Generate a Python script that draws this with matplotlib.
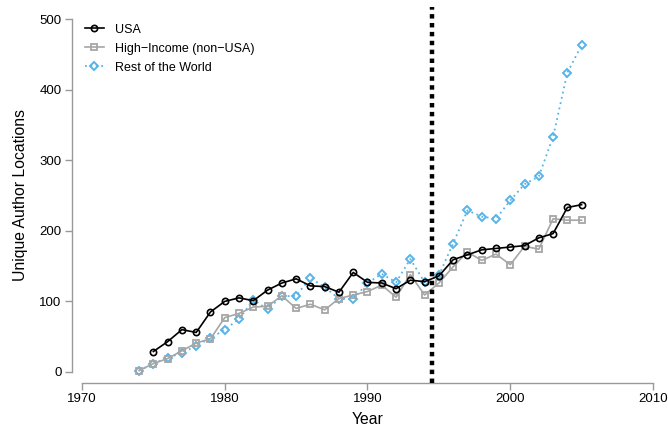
import matplotlib
matplotlib.use("Agg")
import matplotlib.pyplot as plt

plt.rcParams['font.family'] = ['Liberation Sans', 'DejaVu Sans']

years = list(range(1974, 2006))
usa_years = list(range(1975, 2006))
usa = [29, 43, 60, 56, 85, 100, 105, 101, 116, 126, 132, 122, 121, 113, 141,
       127, 126, 118, 130, 128, 136, 159, 166, 173, 175, 177, 179, 190, 196, 233, 237]
high_income = [2, 12, 19, 30, 41, 47, 77, 83, 92, 93, 108, 90, 96, 88, 104, 109,
               114, 123, 106, 138, 109, 126, 149, 170, 158, 167, 152, 178, 174, 217, 215, 215]
rest_world = [2, 12, 20, 27, 37, 48, 60, 75, 102, 89, 107, 108, 133, 120, 104, 103,
              126, 139, 127, 160, 127, 137, 182, 229, 220, 217, 243, 266, 277, 333, 424, 463]
x_ticks = [1970, 1980, 1990, 2000, 2010]
y_ticks = [0, 100, 200, 300, 400, 500]
break_year = 1994.5

gray = '#a6a6a6'
blue = '#56b4e9'

fig = plt.figure(figsize=(6.68, 4.28), dpi=100)
ax = fig.add_axes([72 / 668, 45 / 428, 591 / 668, 376 / 428])

ax.plot(years, rest_world, color=blue, linestyle=(0, (1, 2)), linewidth=1.3,
        marker='D', markersize=4.5, markerfacecolor='none', markeredgecolor=blue,
        markeredgewidth=1.4, label='Rest of the World', zorder=2)
ax.plot(years, high_income, color=gray, linestyle='-', linewidth=1.2,
        marker='s', markersize=4.5, markerfacecolor='none', markeredgecolor=gray,
        markeredgewidth=1.3, label='High\u2212Income (non\u2212USA)', zorder=3)
ax.plot(usa_years, usa, color='black', linestyle='-', linewidth=1.2,
        marker='o', markersize=4.5, markerfacecolor='none', markeredgecolor='black',
        markeredgewidth=1.2, label='USA', zorder=4)

ax.axvline(break_year, color='black', linewidth=3.2, linestyle=(0, (1, 1)), zorder=5)

ax.set_xlim(1969.3, 2010.7)
ax.set_ylim(-15.6, 517)
ax.set_xticks(x_ticks)
ax.set_yticks(y_ticks)

for side in ('top', 'right'):
    ax.spines[side].set_visible(False)
ax.spines['left'].set_bounds(0, 500)
ax.spines['bottom'].set_bounds(1970, 2010)
for side in ('left', 'bottom'):
    ax.spines[side].set_color('#999999')
    ax.spines[side].set_linewidth(1.0)
ax.tick_params(axis='both', direction='out', length=5, width=1.0, color='#999999',
               labelsize=9.5, labelcolor='black', pad=2.5)

ax.set_xlabel('Year', fontsize=11.3)
ax.set_ylabel('Unique Author Locations', fontsize=11.3)
ax.xaxis.set_label_coords(0.5, -0.077)
ax.yaxis.set_label_coords(-0.074, 0.5)

handles, labels = ax.get_legend_handles_labels()
order = [2, 1, 0]
ax.legend([handles[i] for i in order], [labels[i] for i in order],
          loc='upper left', bbox_to_anchor=(0.022, 0.956), frameon=False,
          fontsize=9, handlelength=1.5, handletextpad=0.9, labelspacing=0.56,
          borderaxespad=0, borderpad=0)

fig.savefig('out.png', dpi=100)
